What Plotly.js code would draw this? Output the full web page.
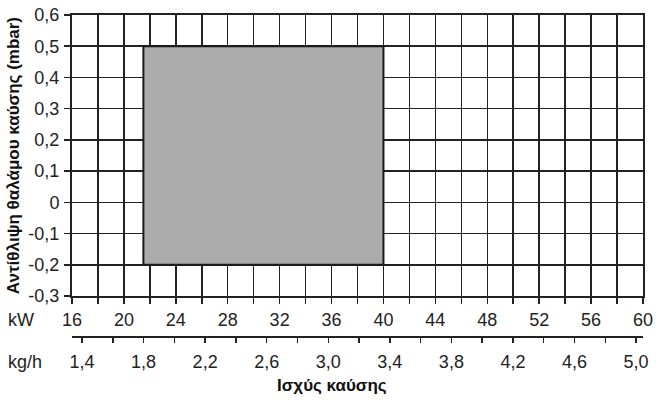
<!DOCTYPE html>
<html>
<head>
<meta charset="utf-8">
<script src="https://cdn.plot.ly/plotly-3.0.1.min.js"></script>
<style>
  html, body { margin: 0; padding: 0; background: #fff; }
  #chart { width: 658px; height: 407px; }
</style>
</head>
<body>
<div id="chart"></div>
<script>
// power axis (kW): grid every 2, label every 4
var kwTicks = [16,18,20,22,24,26,28,30,32,34,36,38,40,42,44,46,48,50,52,54,56,58,60];
var kwLabels = ['16','','20','','24','','28','','32','','36','','40','','44','','48','','52','','56','','60'];

// fuel flow axis (kg/h)
var kghTicks = [1.4,1.6,1.8,2.0,2.2,2.4,2.6,2.8,3.0,3.2,3.4,3.6,3.8,4.0,4.2,4.4,4.6,4.8,5.0];
var kghLabels = ['1,4','','1,8','','2,2','','2,6','','3,0','','3,4','','3,8','','4,2','','4,6','','5,0'];
var kghRange = [1.335, 5.045];

// back pressure axis (mbar)
var pTicks = [-0.3,-0.2,-0.1,0,0.1,0.2,0.3,0.4,0.5,0.6];
var pLabels = ['-0,3','-0,2','-0,1','0','0,1','0,2','0,3','0,4','0,5','0,6'];

// working field of the burner
var fieldKW = [21.5, 40];
var fieldPressure = [-0.2, 0.5];

var field = {
  x: [fieldKW[0], fieldKW[1], fieldKW[1], fieldKW[0], fieldKW[0]],
  y: [fieldPressure[0], fieldPressure[0], fieldPressure[1], fieldPressure[1], fieldPressure[0]],
  mode: 'lines',
  fill: 'toself',
  fillcolor: '#ababab',
  line: { color: '#1a1a1a', width: 2 },
  hoverinfo: 'skip',
  showlegend: false
};

// invisible trace so the second x axis is drawn
var kghDummy = {
  x: kghRange,
  y: [fieldPressure[0], fieldPressure[0]],
  xaxis: 'x2',
  mode: 'markers',
  marker: { opacity: 0 },
  hoverinfo: 'skip',
  showlegend: false
};

var tickFont = { family: 'Liberation Sans, Arial, sans-serif', size: 18, color: '#222' };
var boldFont = { family: 'Liberation Sans, Arial, sans-serif', size: 17, color: '#111' };

var layout = {
  width: 658,
  height: 407,
  margin: { l: 72, r: 15, t: 15, b: 70, pad: 0 },
  paper_bgcolor: '#fff',
  plot_bgcolor: '#fff',
  font: tickFont,
  xaxis: {
    range: [16, 60],
    tickmode: 'array',
    tickvals: kwTicks,
    ticktext: kwLabels,
    ticks: 'outside',
    ticklen: 6,
    tickwidth: 1.5,
    tickcolor: '#222',
    ticklabelstandoff: 0,
    showgrid: true,
    gridcolor: '#222',
    gridwidth: 1.5,
    showline: true,
    linecolor: '#222',
    linewidth: 2,
    mirror: true,
    zeroline: false,
    fixedrange: true,
    tickfont: tickFont
  },
  xaxis2: {
    overlaying: 'x',
    anchor: 'free',
    position: 0,
    side: 'bottom',
    range: kghRange,
    tickmode: 'array',
    tickvals: kghTicks,
    ticktext: kghLabels,
    ticks: 'outside',
    ticklen: 5,
    tickwidth: 1.5,
    tickcolor: '#222',
    ticklabelstandoff: 3,
    showgrid: false,
    showline: true,
    linecolor: '#222',
    linewidth: 2,
    zeroline: false,
    fixedrange: true,
    tickfont: tickFont
  },
  yaxis: {
    domain: [0.127, 1],
    range: [-0.3, 0.6],
    tickmode: 'array',
    tickvals: pTicks,
    ticktext: pLabels,
    ticks: 'outside',
    ticklen: 6,
    tickwidth: 1.5,
    tickcolor: '#222',
    ticklabelstandoff: 1,
    showgrid: true,
    gridcolor: '#222',
    gridwidth: 1.5,
    showline: true,
    linecolor: '#222',
    linewidth: 2,
    mirror: true,
    zeroline: false,
    fixedrange: true,
    tickfont: tickFont,
    title: {
      text: '<b>Αντίθλιψη θαλάμου καύσης (mbar)</b>',
      font: boldFont,
      standoff: 4
    }
  },
  annotations: [
    { text: 'kW', xref: 'paper', yref: 'paper', x: -0.116, y: 0.053, xanchor: 'left', yanchor: 'middle',
      showarrow: false, font: tickFont },
    { text: 'kg/h', xref: 'paper', yref: 'paper', x: -0.116, y: -0.078, xanchor: 'left', yanchor: 'middle',
      showarrow: false, font: tickFont },
    { text: '<b>Ισχύς καύσης</b>', xref: 'paper', yref: 'paper', x: 0.455, y: -0.152, xanchor: 'center', yanchor: 'middle',
      showarrow: false, font: boldFont }
  ],
  showlegend: false
};

Plotly.newPlot('chart', [field, kghDummy], layout, { displayModeBar: false, staticPlot: true });
</script>
</body>
</html>
